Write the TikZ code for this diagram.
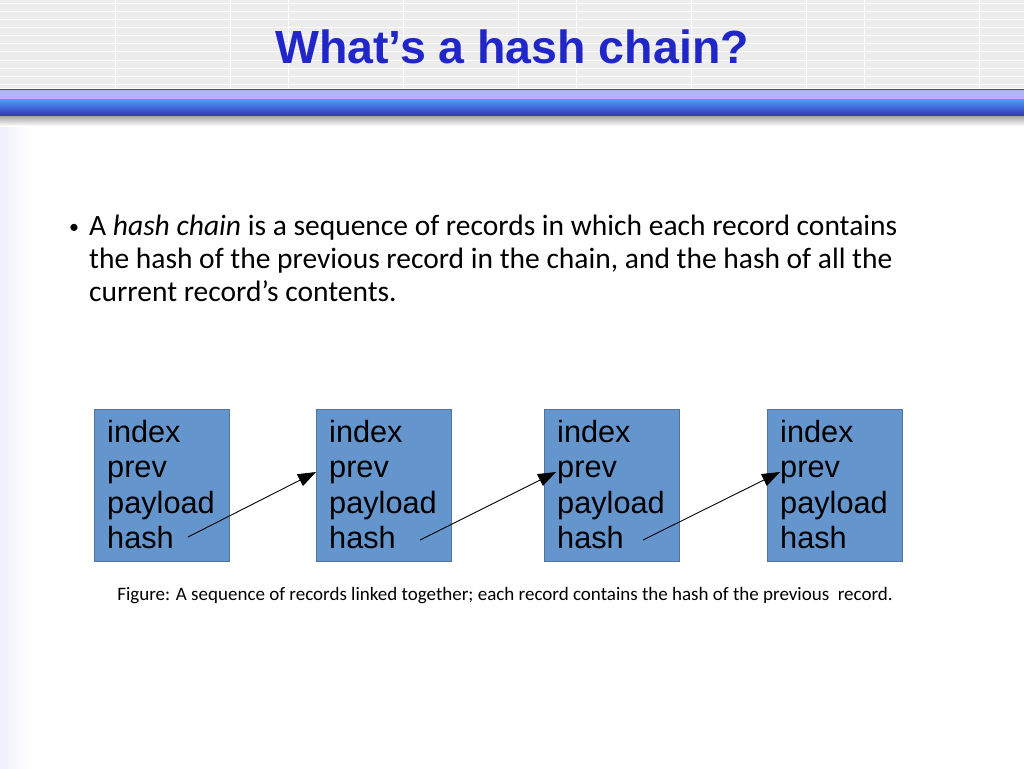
\documentclass[tikz,border=0pt]{standalone}
\usepackage{fontspec}
\setmainfont{Carlito}
\newfontfamily\arial{Liberation Sans}
\usetikzlibrary{arrows.meta}
\definecolor{boxfill}{RGB}{100,149,205}
\definecolor{boxedge}{RGB}{80,115,160}
\definecolor{titleblue}{RGB}{32,38,200}
\tikzset{
  rec/.style={draw=boxedge,fill=boxfill,minimum width=135pt,minimum height=152pt,inner sep=0pt},
  rectext/.style={font=\arial\fontsize{30.7}{35.3}\selectfont,align=left,anchor=north west,inner sep=0pt,text=black},
  link/.style={draw=black,line width=0.9pt,-{Triangle[length=18pt,width=13pt]}}
}
\begin{document}
\begin{tikzpicture}[x=1pt,y=-1pt]
\useasboundingbox (0,0) rectangle (1024,768);
\fill[white] (0,0) rectangle (1024,768);
\shade[left color=blue!6,right color=white] (0,126) rectangle (30,768);
% header stripes
\fill[gray!15] (0,0) rectangle (1024,88);
\foreach \y in {4,12,...,84} \draw[white,line width=1pt] (0,\y) -- (1024,\y);
\foreach \x in {115,230,288,403,518,576,691,806,864,979} \draw[white,line width=0.8pt] (\x,0) -- (\x,88);
\draw[blue!50!gray,line width=0.8pt] (0,89) -- (1024,89);
\fill[blue!30] (0,90) rectangle (1024,99);
\shade[top color=blue!55!cyan!70!white,bottom color=blue!60!black!80] (0,99) rectangle (1024,116);
\shade[top color=gray!70,bottom color=white] (0,116) rectangle (1024,126);
\node (title) at (512,47) {\arial\bfseries\fontsize{46.5}{54}\selectfont\color{titleblue}What’s a hash chain?};
% bullet
\node[anchor=north west,inner sep=0pt,align=left,font=\fontsize{29.5}{32.8}\selectfont] (bullet) at (69,215)
 {\makebox[20pt][l]{\raisebox{2pt}{\fontsize{20}{20}\selectfont•}}A \textit{hash chain} is a sequence of records in which each record contains\\
  \hspace*{20pt}the hash of the previous record in the chain, and the hash of all the\\
  \hspace*{20pt}current record’s contents.};
% records
\foreach \n/\x in {a/94,b/316,c/544,d/767}{
  \node[rec,anchor=north west] (\n) at (\x,409) {};
  \node[rectext] (\n t) at (\x+13,420) {index\\prev\\payload\\hash};
}
\coordinate (ah) at (188,537); \coordinate (bp) at (316,472);
\coordinate (bh) at (420,540); \coordinate (cp) at (556,472);
\coordinate (ch) at (643,540); \coordinate (dp) at (780,472);
\draw[link] (ah) -- (bp);
\draw[link] (bh) -- (cp);
\draw[link] (ch) -- (dp);
\node[font=\fontsize{19}{22}\selectfont] (cap) at (505,596) {Figure: A sequence of records linked together; each record contains the hash of the previous\ \ record.};
\end{tikzpicture}
\end{document}
